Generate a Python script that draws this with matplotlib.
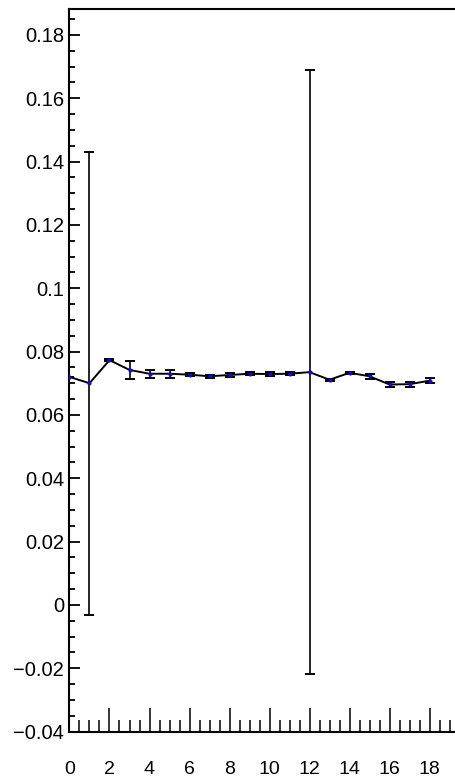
import matplotlib
matplotlib.use("Agg")
import matplotlib.pyplot as plt
from matplotlib.ticker import MultipleLocator, FuncFormatter

plt.rcParams["font.family"] = ["Liberation Sans", "DejaVu Sans"]

# data
x_bins = list(range(19))
y_vals = [0.0720, 0.0700, 0.0773, 0.0742, 0.0730, 0.0730, 0.0727, 0.0722,
          0.0726, 0.0730, 0.0729, 0.0730, 0.0735, 0.0711, 0.0733, 0.0722,
          0.0696, 0.0697, 0.0708]
y_errs = [0.0, 0.0731, 0.0004, 0.0028, 0.0013, 0.0013, 0.0005, 0.0004,
          0.0005, 0.0005, 0.0005, 0.0005, 0.0953, 0.0003, 0.0003, 0.0008,
          0.0008, 0.0008, 0.0008]
x_ticks = x_bins[::2]

W, H = 456, 781
fig = plt.figure(figsize=(W / 100, H / 100), dpi=100, facecolor="white")
ax = fig.add_axes([69.5 / W, 1 - 731.5 / H, 400 / W, (731.5 - 9) / H])

ax.errorbar(x_bins, y_vals, yerr=y_errs, color="black", lw=1.4,
            ecolor="black", elinewidth=1.2, capsize=3.5, capthick=1.4,
            marker="o", ms=2, mfc="#1010c0", mec="#1010c0", zorder=3)

ax.set_xlim(0, 20)
ax.set_ylim(-0.04, 0.1882)

ax.spines["right"].set_visible(False)
for s in ("left", "bottom", "top"):
    ax.spines[s].set_linewidth(1.5)

ax.set_xticks(x_ticks)
ax.xaxis.set_minor_locator(MultipleLocator(0.5))
ax.yaxis.set_major_locator(MultipleLocator(0.02))
ax.yaxis.set_minor_locator(MultipleLocator(0.005))

def fmt_y(v, pos):
    s = "%g" % round(v, 4)
    return s.replace("-", "\u2212")

ax.yaxis.set_major_formatter(FuncFormatter(fmt_y))

ax.tick_params(axis="x", which="major", direction="in", length=17, width=1.1,
               pad=21, labelsize=14, top=False)
ax.tick_params(axis="x", which="minor", direction="in", length=8.5, width=1.1,
               top=False)
ax.tick_params(axis="y", which="major", direction="in", length=8, width=1.3,
               pad=4, labelsize=14.5, right=False)
ax.tick_params(axis="y", which="minor", direction="in", length=4, width=1.3,
               right=False)

fig.savefig("out.png", dpi=100, facecolor="white")
